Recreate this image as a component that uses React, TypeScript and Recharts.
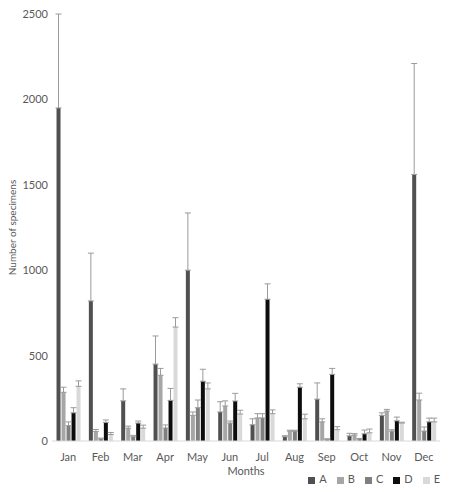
import { Bar, BarChart, ErrorBar, Legend, XAxis, YAxis } from "recharts";

const months = ["Jan", "Feb", "Mar", "Apr", "May", "Jun", "Jul", "Aug", "Sep", "Oct", "Nov", "Dec"];
const yTicks = [0, 500, 1000, 1500, 2000, 2500];

const seriesA = [1950, 820, 235, 450, 1000, 170, 95, 25, 245, 30, 150, 1560];
const errA = [550, 280, 70, 165, 335, 60, 35, 6, 95, 15, 15, 650];
const seriesB = [285, 55, 75, 385, 150, 205, 135, 58, 112, 35, 175, 240];
const errB = [30, 12, 12, 40, 20, 30, 25, 5, 18, 8, 10, 40];
const seriesC = [90, 12, 25, 76, 195, 105, 135, 58, 10, 12, 58, 58];
const errC = [22, 5, 8, 18, 45, 12, 25, 5, 3, 3, 8, 24];
const seriesD = [165, 108, 105, 238, 350, 234, 830, 315, 390, 42, 118, 112];
const errD = [30, 15, 12, 70, 70, 45, 90, 20, 35, 22, 22, 22];
const seriesE = [320, 38, 75, 667, 305, 158, 160, 130, 66, 48, 105, 112];
const errE = [32, 12, 18, 55, 35, 22, 22, 27, 18, 22, 5, 22];

const data = months.map((m, i) => ({
  month: m,
  A: seriesA[i], aErr: [0, errA[i]],
  B: seriesB[i], bErr: [0, errB[i]],
  C: seriesC[i], cErr: [0, errC[i]],
  D: seriesD[i], dErr: [0, errD[i]],
  E: seriesE[i], eErr: [0, errE[i]],
}));

const bars = [
  { key: "A", err: "aErr", fill: "#505050" },
  { key: "B", err: "bErr", fill: "#a6a6a6" },
  { key: "C", err: "cErr", fill: "#7f7f7f" },
  { key: "D", err: "dErr", fill: "#0d0d0d" },
  { key: "E", err: "eErr", fill: "#d9d9d9" },
];

const font = "Lato, 'Open Sans', sans-serif";

export default function App() {
  return (
    <div style={{ position: "absolute", left: 0, top: 0, fontFamily: font }}>
      <BarChart
        width={450}
        height={492}
        data={data}
        margin={{ top: 14, right: 10, left: 0, bottom: 0 }}
        barCategoryGap="14%"
        barGap={1}
      >
        <XAxis
          dataKey="month"
          height={38}
          tickLine={false}
          axisLine={{ stroke: "#d9d9d9" }}
          tick={{ fontSize: 11, fill: "#595959", fontFamily: font }}
          tickMargin={6}
          label={{ value: "Months", position: "insideBottom", offset: 4, style: { fontSize: 11, fill: "#595959", fontFamily: font } }}
        />
        <YAxis
          width={52}
          domain={[0, 2500]}
          ticks={yTicks}
          tickLine={false}
          axisLine={false}
          tickSize={2}
          tickMargin={2}
          tick={{ fontSize: 11, fill: "#595959", fontFamily: font }}
          label={{ value: "Number of specimens", angle: -90, position: "insideLeft", offset: 12, style: { fontSize: 10, fill: "#595959", fontFamily: font, textAnchor: "middle" } }}
        />
        <Legend
          verticalAlign="bottom"
          align="right"
          iconType="square"
          iconSize={7}
          formatter={(value) => <span style={{ color: "#595959" }}>{value}</span>}
          wrapperStyle={{ fontSize: 11, fontFamily: font, width: 150, left: 300, bottom: 7 }}
        />
        {bars.map((b) => (
          <Bar key={b.key} dataKey={b.key} fill={b.fill} isAnimationActive={false}>
            <ErrorBar dataKey={b.err} direction="y" width={3} stroke="#9a9a9a" strokeWidth={1} isAnimationActive={false} />
          </Bar>
        ))}
      </BarChart>
    </div>
  );
}
